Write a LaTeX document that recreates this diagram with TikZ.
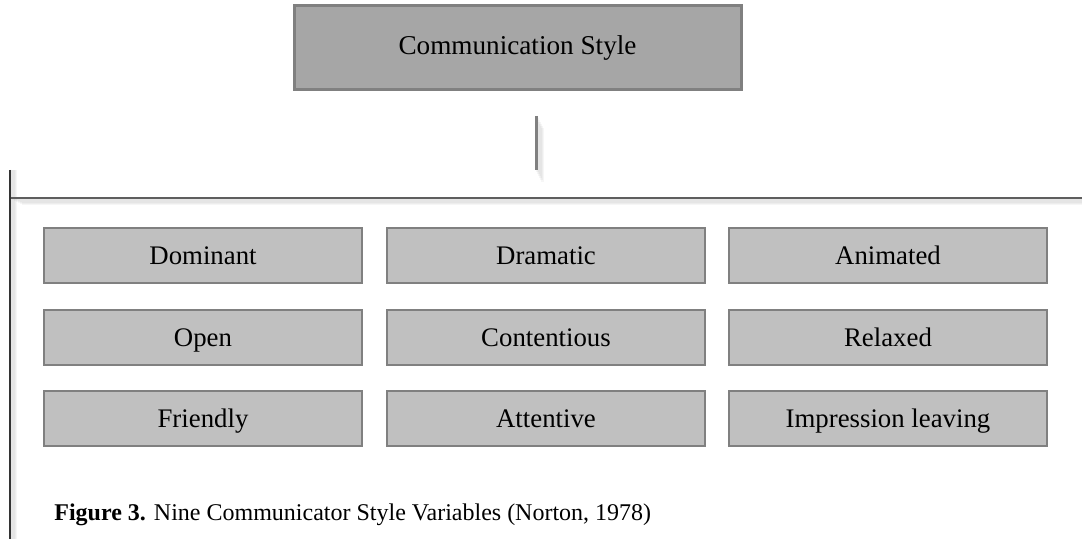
\documentclass[tikz,border=0pt]{standalone}
\usepackage{fontspec}
\setmainfont{Liberation Serif}
\definecolor{headfill}{HTML}{A6A6A6}
\definecolor{itemfill}{HTML}{C0C0C0}
\definecolor{edgegray}{HTML}{808080}
\definecolor{rulegray}{HTML}{5E5E5E}
\definecolor{leftrule}{HTML}{333333}
\begin{document}
\begin{tikzpicture}[x=0.5pt,y=-0.5pt,
  headbox/.style={draw=edgegray,line width=1.5pt,fill=headfill,
    minimum width=223.5pt,minimum height=42pt,inner sep=0pt},
  itembox/.style={draw=edgegray,line width=0.75pt,fill=itemfill,
    minimum width=159pt,minimum height=27.5pt,inner sep=0pt,
    text height=11pt,text depth=1.5pt,
    font=\fontsize{13.4}{16}\selectfont},
  shade/.style={line width=#1,black,opacity=0.035}]
\useasboundingbox (0,0) rectangle (1082,539);

% heading box
\node[headbox] (head) at (517.5,48) {};
\node[anchor=base,font=\fontsize{13.6}{16}\selectfont] (headtxt) at (517.5,55) {Communication Style};

% trunk and branch rules, with soft shadows
\coordinate (stemtop) at (536.5,116);
\coordinate (stembot) at (536.5,170);
\coordinate (railL) at (10,198);
\coordinate (railR) at (1082,198);
\coordinate (sideT) at (9.5,170);
\coordinate (sideB) at (9.5,539);

\foreach \d in {2,4,6,8,10,12} {
  \draw[shade=1.5pt] ([xshift=\d*0.5pt,yshift=-\d*0.25pt]railL) -- ([yshift=-\d*0.25pt]railR);
  \draw[shade=1.5pt] ([xshift=\d*0.25pt,yshift=-\d*0.5pt]stemtop) -- ([xshift=\d*0.25pt,yshift=-\d*0.5pt]stembot);
  \draw[shade=1.5pt] ([xshift=\d*0.25pt]sideT) -- ([xshift=\d*0.25pt]sideB);
}
\draw[edgegray,line width=1.5pt] (stemtop) -- (stembot);
\draw[rulegray,line width=1pt] (railL) -- (railR);
\draw[leftrule,line width=1pt] (sideT) -- (sideB);

% nine style variables
\node[itembox] (dom) at (203,255.5) {Dominant};
\node[itembox] (dra) at (546,255.5) {Dramatic};
\node[itembox] (ani) at (888,255.5) {Animated};
\node[itembox] (ope) at (203,337.5) {Open};
\node[itembox] (con) at (546,337.5) {Contentious};
\node[itembox] (rel) at (888,337.5) {Relaxed};
\node[itembox] (fri) at (203,418.5) {Friendly};
\node[itembox] (att) at (546,418.5) {Attentive};
\node[itembox] (imp) at (888,418.5) {Impression leaving};

% caption
\node[anchor=base west,inner sep=0pt,font=\fontsize{12}{14}\selectfont] (cap) at (54,521)
  {\textbf{Figure 3.} Nine Communicator Style Variables (Norton, 1978)};
\end{tikzpicture}
\end{document}
